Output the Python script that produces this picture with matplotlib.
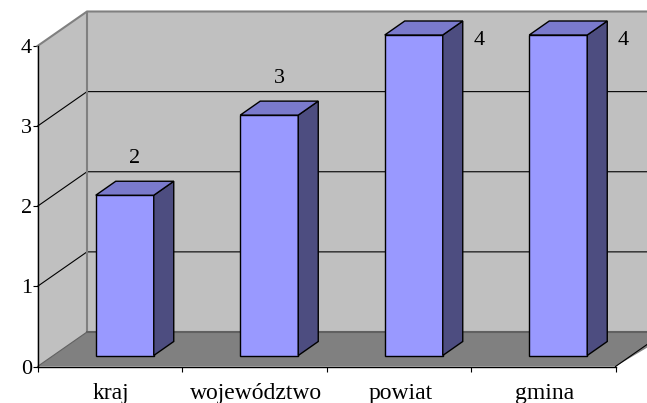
import numpy as np
import matplotlib
matplotlib.use('Agg')
import matplotlib.pyplot as plt

categories = ['kraj', 'województwo', 'powiat', 'gmina']
values = [2, 3, 4, 4]
y_ticks = [0, 1, 2, 3, 4]

W, H = 647, 403
x0, x1 = 37.5, 615.5   # front plane in pixels
y0, y1 = 366.5, 46.0

plt.rcParams['font.family'] = ['Liberation Serif', 'DejaVu Serif']

fig = plt.figure(figsize=(W/100, H/100), dpi=100)
ax = fig.add_axes([x0/W, (H-y0)/H, (x1-x0)/W, (y0-y1)/H])
ax.set_xlim(0, 4)
ax.set_ylim(0, 4)
ax.patch.set_visible(False)

# pixel sizes in data units
px = 4/(x1-x0)
py = 4/(y0-y1)

# chart depth
dx = 49.5*px
dy = 34.5*py
far = 4.4  # past the right edge of the picture

# back wall, side wall, floor
ax.fill([dx, far, far, dx], [dy, dy, 4+dy, 4+dy], color='#c0c0c0', lw=0, zorder=1, clip_on=False)
ax.fill([0, dx, dx, 0], [0, dy, 4+dy, 4], color='#c0c0c0', lw=0, zorder=1, clip_on=False)
ax.fill([0, dx, far, far, 4], [0, dy, dy, dy, 0], color='#808080', lw=0, zorder=2, clip_on=False)

for v in y_ticks[1:-1]:
    ax.plot([0, dx, far], [v, v+dy, v+dy], color='black', lw=0.8, zorder=3, clip_on=False)

wall = '#808080'
ax.plot([dx, dx], [dy, 4+dy], color=wall, lw=1.5, zorder=3, clip_on=False)
ax.plot([0, dx, far], [4, 4+dy, 4+dy], color=wall, lw=1.5, zorder=3, clip_on=False)
ax.plot([dx, far], [dy, dy], color='#606060', lw=1.5, zorder=3, clip_on=False)
ax.plot([0, dx], [0, dy], color='#606060', lw=0.8, zorder=3, clip_on=False)
ax.plot([4, 4+dx], [0, dy], color='black', lw=0.8, zorder=3, clip_on=False)

# bars
x = np.arange(len(values)) + 0.5
vals = np.array(values, dtype=float)
bw = 58*px
bx = x + 15*px
by = 11*py
ddx = 20*px
ddy = 14*py

ax.bar(bx, vals, bw, bottom=by, color='#9999ff', edgecolor='black', lw=1.0, zorder=5, clip_on=False)
for xi, v in zip(bx, vals):
    l, r = xi-bw/2, xi+bw/2
    top = v+by
    ax.fill([r, r+ddx, r+ddx, r], [by, by+ddy, top+ddy, top], facecolor='#4d4d80',
            edgecolor='black', lw=1.0, zorder=5, clip_on=False)
    ax.fill([l, l+ddx, r+ddx, r], [top, top+ddy, top+ddy, top], facecolor='#7a7acc',
            edgecolor='black', lw=1.0, zorder=5, clip_on=False)

# value labels, the two tall ones sit beside the bar
for i, v in enumerate(values):
    if v < 4:
        tx, ty = bx[i] + 10*px, v + by + 37*py
    else:
        tx, ty = bx[i] + 65*px, v + by - 5*py
    ax.text(tx, ty, str(v), fontsize=16, ha='center', va='center', zorder=6, clip_on=False)

ax.set_xticks(range(len(categories)+1))
ax.set_xticklabels([])
ax.set_yticks(y_ticks)
ax.tick_params(axis='both', length=3.5, width=0.8, color='black')
ax.tick_params(axis='y', labelsize=16, pad=0.5)
for s in ['top', 'right']:
    ax.spines[s].set_visible(False)
for s in ['left', 'bottom']:
    ax.spines[s].set_linewidth(1.0)
    ax.spines[s].set_zorder(4)

for xi, c in zip(x, categories):
    ax.text(xi + 1.5*px, -27*py, c, fontsize=17, ha='center', va='center', clip_on=False)

fig.savefig('out.png', dpi=100)
